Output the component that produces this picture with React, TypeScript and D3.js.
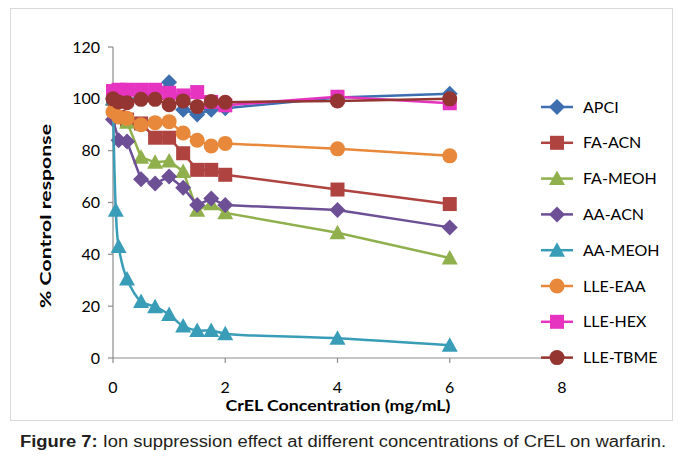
import React from "react";
import * as d3 from "d3";

// CrEL concentrations (mg/mL)
const concentrations = [0, 0.1, 0.25, 0.5, 0.75, 1, 1.25, 1.5, 1.75, 2, 4, 6];
const concentrationsAaMeoh = [0, 0.05, 0.1, 0.25, 0.5, 0.75, 1, 1.25, 1.5, 1.75, 2, 4, 6];

// % control response per extraction method
const apci = [100, 99.5, 99.5, 100.5, 102, 106.4, 95.8, 94, 95.8, 96.4, 100.5, 102];
const faAcn = [100, 93, 92, 90.5, 85, 85, 79, 72.6, 72.6, 70.7, 65, 59.4];
const faMeoh = [100, 93, 91, 77.5, 75.5, 76, 72, 57, 59.5, 56, 48.3, 38.6];
const aaAcn = [92, 84, 83.5, 69, 67.3, 70, 65.7, 59, 61.5, 59, 57.1, 50.4];
const aaMeoh = [100, 57, 43, 30.5, 21.8, 19.8, 16.8, 12.3, 10.6, 10.6, 9.4, 7.6, 4.9];
const lleEaa = [95, 93, 92.5, 90, 90.8, 91.2, 86.8, 84, 81.8, 82.8, 80.7, 78];
const lleHex = [103, 103.5, 103.5, 103.5, 103.5, 102.3, 101.3, 102.6, 98.8, 97.5, 100.8, 98.3];
const lleTbme = [100, 98.8, 98.5, 99.8, 99.8, 97.7, 99.2, 97, 99, 98.7, 99.2, 100];

const seriesNames = ["APCI", "FA-ACN", "FA-MEOH", "AA-ACN", "AA-MEOH", "LLE-EAA", "LLE-HEX", "LLE-TBME"];
const seriesValues = [apci, faAcn, faMeoh, aaAcn, aaMeoh, lleEaa, lleHex, lleTbme];
const seriesX = [concentrations, concentrations, concentrations, concentrations, concentrationsAaMeoh, concentrations, concentrations, concentrations];
const seriesColors = ["#3d6fb0", "#ae4340", "#8fb04d", "#6d4f96", "#3a9db8", "#e8883a", "#e633c0", "#943532"];
const seriesShapes = ["diamond", "square", "triangle", "diamond", "triangle", "circle", "square", "circle"];
const seriesSmooth = [false, false, false, false, true, false, false, false];

const xTicks = [0, 2, 4, 6, 8];
const yTicks = [0, 20, 40, 60, 80, 100, 120];

const W = 683;
const H = 461;
const plot = { left: 113, right: 562, top: 47, bottom: 358 };
const font = "Lato, 'Open Sans', sans-serif";

const x = d3.scaleLinear().domain([0, 8]).range([plot.left, plot.right]);
const y = d3.scaleLinear().domain([0, 120]).range([plot.bottom, plot.top]);

function Marker({ shape, cx, cy, color }: { shape: string; cx: number; cy: number; color: string }) {
  if (shape === "circle") return <circle cx={cx} cy={cy} r={7.5} fill={color} />;
  if (shape === "square") return <rect x={cx - 7} y={cy - 7} width={14} height={14} fill={color} />;
  if (shape === "diamond")
    return <path d={`M${cx},${cy - 8}L${cx + 8},${cy}L${cx},${cy + 8}L${cx - 8},${cy}Z`} fill={color} />;
  return <path d={`M${cx},${cy - 8}L${cx + 8},${cy + 6.5}L${cx - 8},${cy + 6.5}Z`} fill={color} />;
}

export default function App() {
  const legendTop = 107;
  const legendStep = 35.8;
  return (
    <div style={{ position: "absolute", left: 0, top: 0 }}>
      <svg width={W} height={H} style={{ display: "block", background: "#fff" }}>
        <rect x={10.5} y={8.5} width={662} height={412} fill="#fff" stroke="#d9d9d9" />

        {/* axes */}
        <line x1={plot.left} x2={plot.left} y1={plot.top} y2={plot.bottom} stroke="#8c8c8c" strokeWidth={1.2} />
        <line x1={plot.left} x2={plot.right} y1={plot.bottom} y2={plot.bottom} stroke="#8c8c8c" strokeWidth={1.2} />
        {yTicks.map((t) => (
          <g key={`y${t}`}>
            <line x1={plot.left - 5} x2={plot.left} y1={y(t)} y2={y(t)} stroke="#8c8c8c" strokeWidth={1.2} />
            <text x={100} y={y(t)} dy="0.35em" textAnchor="end" fontFamily={font} fontSize={16} fill="#000">
              {t}
            </text>
          </g>
        ))}
        {xTicks.map((t) => (
          <g key={`x${t}`}>
            <line x1={x(t)} x2={x(t)} y1={plot.bottom} y2={plot.bottom + 5} stroke="#8c8c8c" strokeWidth={1.2} />
            <text x={x(t)} y={387} dy="0.35em" textAnchor="middle" fontFamily={font} fontSize={16} fill="#000">
              {t}
            </text>
          </g>
        ))}

        {/* series */}
        {seriesValues.map((vals, i) => {
          const xs = seriesX[i];
          const pts: [number, number][] = vals.map((v, j) => [x(xs[j]), y(v)]);
          const line = d3
            .line()
            .curve(seriesSmooth[i] ? d3.curveCatmullRom.alpha(0.5) : d3.curveLinear)(pts);
          return (
            <g key={seriesNames[i]}>
              <path d={line || ""} fill="none" stroke={seriesColors[i]} strokeWidth={2.5} />
              {pts.map((p, j) => (
                <Marker key={j} shape={seriesShapes[i]} cx={p[0]} cy={p[1]} color={seriesColors[i]} />
              ))}
            </g>
          );
        })}

        {/* axis titles */}
        <text
          x={338}
          y={406}
          dy="0.35em"
          textAnchor="middle"
          fontFamily={font}
          fontSize={15}
          fontWeight="bold"
          fill="#000"
          textLength={225}
          lengthAdjust="spacingAndGlyphs"
        >
          CrEL Concentration (mg/mL)
        </text>
        <text
          transform="translate(45,216) rotate(-90)"
          dy="0.35em"
          textAnchor="middle"
          fontFamily={font}
          fontSize={16}
          fontWeight="bold"
          fill="#000"
          textLength={184}
          lengthAdjust="spacingAndGlyphs"
        >
          % Control response
        </text>

        {/* legend */}
        {seriesNames.map((name, i) => {
          const ly = legendTop + i * legendStep;
          return (
            <g key={`lg${name}`}>
              <line x1={541} x2={573} y1={ly} y2={ly} stroke={seriesColors[i]} strokeWidth={2.5} />
              <Marker shape={seriesShapes[i]} cx={557} cy={ly} color={seriesColors[i]} />
              <text x={583} y={ly} dy="0.35em" fontFamily={font} fontSize={16} fill="#000">
                {name}
              </text>
            </g>
          );
        })}

        {/* caption */}
        <text
          x={20}
          y={441}
          dy="0.35em"
          fontFamily="'Liberation Sans', Arial, sans-serif"
          fontSize={16}
          fill="#231f20"
          textLength={646}
          lengthAdjust="spacingAndGlyphs"
        >
          <tspan fontWeight="bold">Figure 7:</tspan>
          <tspan> Ion suppression effect at different concentrations of CrEL on warfarin.</tspan>
        </text>
      </svg>
    </div>
  );
}
